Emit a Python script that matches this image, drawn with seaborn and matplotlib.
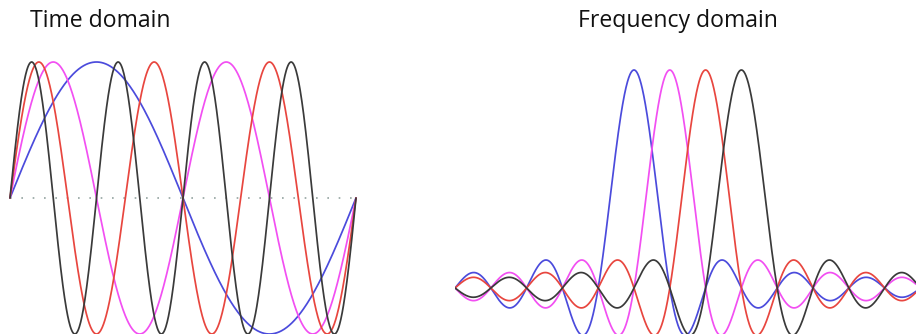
import numpy as np
import pandas as pd
import matplotlib
matplotlib.use("Agg")
import matplotlib.pyplot as plt
import seaborn as sns

# ---- data ----
series_names = ["blue", "magenta", "red", "black"]
series_colors = ["#4b4bdc", "#f24ff2", "#e8463f", "#3a3a3a"]
time_cycles = [1, 2, 3, 4]            # cycles of each subcarrier over the symbol
freq_centers = [0, 1, 2, 3]           # subcarrier centres (in units of spacing)
titles = ["Time domain", "Frequency domain"]

sns.set_style("white")
plt.rcParams["font.family"] = ["Open Sans", "DejaVu Sans"]

W, H = 916, 334
fig = plt.figure(figsize=(W / 100, H / 100), dpi=100)

# ---- time-domain panel ----
t = np.linspace(0, 1, 800)
rows = []
for name, f in zip(series_names, time_cycles):
    rows.append(pd.DataFrame({"t": t, "y": np.sin(2 * np.pi * f * t), "series": name}))
df_time = pd.concat(rows, ignore_index=True)

ax1 = fig.add_axes([10 / W, 0, 346 / W, 1])
zero_px, amp_px = 198, 136
ax1.set_xlim(0, 1)
ax1.set_ylim(-(H - zero_px) / amp_px, zero_px / amp_px)
ax1.plot([0, 1], [0, 0], color="#93a3a0", lw=1.2, dashes=(1, 5.8), clip_on=False)
sns.lineplot(data=df_time, x="t", y="y", hue="series", hue_order=series_names,
             palette=series_colors, legend=False, ax=ax1, linewidth=1.25,
             estimator=None, sort=False)
for ln in ax1.lines:
    ln.set_clip_on(False)
ax1.set_axis_off()

# ---- frequency-domain panel ----
spacing_px = 35.8
x_lo = -5
x_hi = x_lo + 461 / spacing_px
x = np.linspace(x_lo, x_hi, 1500)
rows = []
for name, c in zip(series_names, freq_centers):
    rows.append(pd.DataFrame({"x": x, "y": np.sinc(x - c), "series": name}))
df_freq = pd.concat(rows, ignore_index=True)

ax2 = fig.add_axes([455 / W, 0, 461 / W, 1])
base_px, peak_px = 288, 218
ax2.set_xlim(x_lo, x_hi)
ax2.set_ylim(-(H - base_px) / peak_px, base_px / peak_px)
sns.lineplot(data=df_freq, x="x", y="y", hue="series", hue_order=series_names,
             palette=series_colors, legend=False, ax=ax2, linewidth=1.25,
             estimator=None, sort=False)
ax2.set_axis_off()

# ---- titles ----
fig.text(30 / W, 1 - 21 / H, titles[0], fontsize=16.6, color="#111111",
         ha="left", va="center")
fig.text(578 / W, 1 - 21 / H, titles[1], fontsize=16.6, color="#111111",
         ha="left", va="center")

fig.savefig("out.png", dpi=100, facecolor="white")
